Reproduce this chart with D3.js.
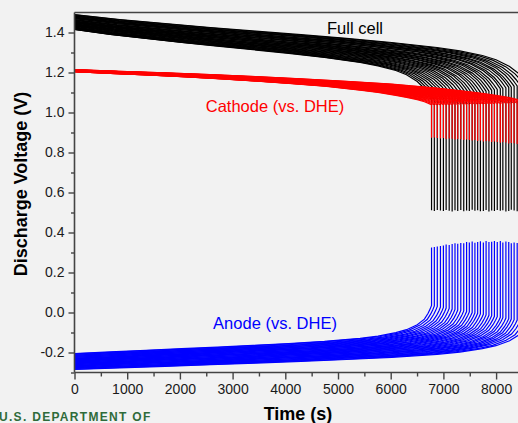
<!DOCTYPE html>
<html><head><meta charset="utf-8">
<script src="https://cdn.jsdelivr.net/npm/d3@7"></script>
<style>
html,body{margin:0;padding:0;background:#f2f2f2;}
svg{display:block;overflow:hidden;font-family:"Liberation Sans",Arial,sans-serif;}
</style></head>
<body>
<svg id="chart" width="518" height="423"></svg>
<script>
// ---- data ----
// discharge end time of each cycle (s), first (longest) cycle first
const cycleEnd = [8600, 8530, 8462, 8400, 8342, 8288, 8240, 8186, 8128, 8080, 8022, 7968, 7916, 7864, 7810, 7758, 7702, 7650, 7598, 7546, 7492, 7440, 7386, 7330, 7272, 7220, 7166, 7110, 7052, 7000, 6944, 6884, 6828, 6775];
// starting voltages of each cycle
const fullStart = [1.490, 1.488, 1.485, 1.483, 1.481, 1.477, 1.476, 1.473, 1.470, 1.469, 1.465, 1.463, 1.461, 1.457, 1.456, 1.453, 1.451, 1.448, 1.447, 1.443, 1.442, 1.439, 1.437, 1.434, 1.432, 1.430, 1.427, 1.425, 1.423, 1.421, 1.419, 1.417, 1.416, 1.415];
const cathodeStart = [1.214, 1.214, 1.213, 1.213, 1.213, 1.212, 1.212, 1.212, 1.211, 1.211, 1.211, 1.210, 1.210, 1.210, 1.209, 1.209, 1.209, 1.208, 1.208, 1.208, 1.207, 1.207, 1.207, 1.206, 1.206, 1.206, 1.205, 1.205, 1.205, 1.205, 1.204, 1.204, 1.204, 1.204];
const anodeStart = [-0.285, -0.283, -0.280, -0.278, -0.276, -0.273, -0.271, -0.268, -0.266, -0.264, -0.261, -0.259, -0.256, -0.254, -0.252, -0.249, -0.247, -0.244, -0.242, -0.240, -0.237, -0.235, -0.232, -0.230, -0.228, -0.225, -0.223, -0.220, -0.218, -0.215, -0.213, -0.210, -0.207, -0.205];
// end-of-discharge voltages
const fullBottom = [0.510, 0.508, 0.512, 0.506, 0.510, 0.514, 0.508, 0.505, 0.511, 0.509, 0.513, 0.507, 0.510, 0.505, 0.512, 0.508, 0.506, 0.511, 0.509, 0.514, 0.507, 0.510, 0.506, 0.512, 0.508, 0.511, 0.505, 0.509, 0.513, 0.507, 0.510, 0.512, 0.508, 0.511];
const cathodeBottom = [0.840, 0.842, 0.845, 0.843, 0.846, 0.848, 0.845, 0.850, 0.852, 0.849, 0.853, 0.855, 0.852, 0.856, 0.858, 0.855, 0.860, 0.858, 0.862, 0.860, 0.863, 0.865, 0.862, 0.866, 0.868, 0.865, 0.869, 0.870, 0.868, 0.872, 0.870, 0.873, 0.875, 0.874];
const anodeTop = [0.340, 0.345, 0.342, 0.348, 0.350, 0.346, 0.352, 0.355, 0.350, 0.357, 0.353, 0.358, 0.354, 0.352, 0.358, 0.350, 0.356, 0.353, 0.349, 0.355, 0.350, 0.352, 0.346, 0.348, 0.344, 0.346, 0.342, 0.338, 0.340, 0.335, 0.333, 0.330, 0.328, 0.325];
// shape of one discharge curve: fraction of discharge time -> change from start
const shapeFrac   = [0, 0.1, 0.2, 0.3, 0.4, 0.5, 0.6, 0.7, 0.8, 0.85, 0.9, 0.93, 0.96, 0.98, 0.99, 0.996, 1.0];
const fullDrop    = [0, 0.025, 0.045, 0.065, 0.083, 0.101, 0.119, 0.140, 0.165, 0.182, 0.205, 0.226, 0.260, 0.295, 0.320, 0.338, 0.350];
const cathodeDrop = [0, 0.008, 0.016, 0.025, 0.035, 0.046, 0.058, 0.072, 0.092, 0.104, 0.118, 0.128, 0.140, 0.150, 0.157, 0.162, 0.166];
const anodeRise   = [0, 0.008, 0.016, 0.024, 0.032, 0.041, 0.050, 0.061, 0.076, 0.087, 0.104, 0.119, 0.144, 0.172, 0.200, 0.222, 0.240];
const yTicks = [-0.2, 0.0, 0.2, 0.4, 0.6, 0.8, 1.0, 1.2, 1.4];
const xTicks = [0, 1000, 2000, 3000, 4000, 5000, 6000, 7000, 8000];

// ---- chart ----
const svg = d3.select("#chart");
svg.append("rect").attr("width", 518).attr("height", 423).attr("fill", "#f2f2f2");

const x = d3.scaleLinear().domain([0, 9000]).range([74.5, 74.5 + 9 * 52.7]);
const y = d3.scaleLinear().domain([-0.3, 1.5]).range([372.5, 12.5]);

svg.append("clipPath").attr("id", "clip").append("rect")
  .attr("x", 74.5).attr("y", 12.5).attr("width", 460).attr("height", 360);

const line = d3.line().x(d => x(d[0])).y(d => y(d[1]));
const plot = svg.append("g").attr("clip-path", "url(#clip)");

function build(i, start, deltas, sign, endV) {
  const pts = shapeFrac.map((f, k) => [f * cycleEnd[i], start + sign * deltas[k]]);
  pts.push([cycleEnd[i], endV]);
  return pts;
}

const series = [
  {color: "#0000ff", start: anodeStart, d: anodeRise, sign: 1, end: anodeTop},
  {color: "#000000", start: fullStart, d: fullDrop, sign: -1, end: fullBottom},
  {color: "#ff0000", start: cathodeStart, d: cathodeDrop, sign: -1, end: cathodeBottom}
];
series.forEach(s => {
  plot.append("g").selectAll("path").data(cycleEnd.map((_, i) => i)).join("path")
    .attr("d", i => line(build(i, s.start[i], s.d, s.sign, s.end[i])))
    .attr("fill", "none").attr("stroke", s.color).attr("stroke-width", 1.2);
});

// axes
const axisColor = "#444";
const yAxis = svg.append("g").attr("transform", "translate(74.5,0)")
  .call(d3.axisLeft(y).tickValues(yTicks).tickSize(6).tickPadding(4).tickFormat(d => d.toFixed(1)));
const yMinor = svg.append("g").attr("transform", "translate(74.5,0)")
  .call(d3.axisLeft(y).tickValues([-0.3, -0.1, 0.1, 0.3, 0.5, 0.7, 0.9, 1.1, 1.3]).tickSize(3.5).tickFormat(""));
const xAxis = svg.append("g").attr("transform", "translate(0,372.5)")
  .call(d3.axisBottom(x).tickValues(xTicks).tickSize(7).tickPadding(5).tickFormat(d3.format("d")));
const xMinor = svg.append("g").attr("transform", "translate(0,372.5)")
  .call(d3.axisBottom(x).tickValues([500, 1500, 2500, 3500, 4500, 5500, 6500, 7500, 8500]).tickSize(4).tickFormat(""));
[yAxis, yMinor, xAxis, xMinor].forEach(g => {
  g.selectAll(".domain").attr("stroke", axisColor).attr("stroke-width", 1.6);
  g.selectAll(".tick line").attr("stroke", axisColor).attr("stroke-width", 1.4);
  g.selectAll("text").attr("font-size", 14).attr("fill", "#1a1a1a")
    .attr("font-family", "'Liberation Sans', Arial, sans-serif");
});
xAxis.select(".domain").attr("d", "M74.5,0H540");
yAxis.select(".domain").attr("d", "M0,372.5V12.5");
yMinor.select(".domain").remove();
xMinor.select(".domain").remove();
// top frame line
svg.append("line").attr("x1", 74.5).attr("x2", 518).attr("y1", 12.5).attr("y2", 12.5)
  .attr("stroke", axisColor).attr("stroke-width", 1.6);

// axis titles
svg.append("text").attr("x", 298).attr("y", 420).attr("text-anchor", "middle")
  .attr("font-size", 18).attr("font-weight", "bold").attr("fill", "#000").text("Time (s)");
svg.append("text").attr("transform", "translate(27,184) rotate(-90)").attr("text-anchor", "middle")
  .attr("font-size", 18).attr("font-weight", "bold").attr("fill", "#000").text("Discharge Voltage (V)");

// series labels
svg.append("text").attr("x", 355).attr("y", 33.5).attr("text-anchor", "middle")
  .attr("font-size", 16.5).attr("fill", "#000").text("Full cell");
svg.append("text").attr("x", 275).attr("y", 112).attr("text-anchor", "middle")
  .attr("font-size", 16.5).attr("fill", "#ff0000").text("Cathode (vs. DHE)");
svg.append("text").attr("x", 275).attr("y", 328.5).attr("text-anchor", "middle")
  .attr("font-size", 16.5).attr("fill", "#0000ff").text("Anode (vs. DHE)");

// footer
svg.append("text").attr("x", -1).attr("y", 421).attr("font-size", 12).attr("font-weight", "bold")
  .attr("letter-spacing", 1.3).attr("fill", "#2f6b3a").text("U.S. DEPARTMENT OF");
</script>
</body></html>
